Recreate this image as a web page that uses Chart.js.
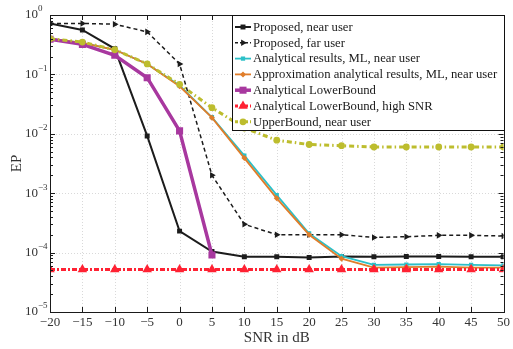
<!DOCTYPE html>
<html>
<head>
<meta charset="utf-8">
<script src="https://cdn.jsdelivr.net/npm/chart.js"></script>
<style>
  html, body { margin: 0; padding: 0; background: #fff; }
  canvas { display: block; }
</style>
</head>
<body>
<canvas id="chart-ep" width="513" height="349"></canvas>
<script>
const $ = document.querySelector.bind(document);

// SNR in dB (x axis)
const snr = [-20, -15, -10, -5, 0, 5, 10, 15, 20, 25, 30, 35, 40, 45, 50];
const decades = [0, -1, -2, -3, -4, -5];

const labels = [
  "Proposed, near user",
  "Proposed, far user",
  "Analytical results, ML, near user",
  "Approximation analytical results, ML, near user",
  "Analytical LowerBound",
  "Analytical LowerBound, high SNR",
  "UpperBound, near user",
];

const proposedNear = [0.72, 0.56, 0.27, 0.0092, 2.3e-4, 1.04e-4, 8.5e-5, 8.5e-5, 8.3e-5, 8.6e-5, 8.5e-5, 8.6e-5, 8.6e-5, 8.5e-5, 8.5e-5];
const proposedFar = [0.72, 0.72, 0.70, 0.52, 0.15, 2.0e-3, 3.0e-4, 2.0e-4, 2.0e-4, 2.0e-4, 1.8e-4, 1.85e-4, 1.95e-4, 1.95e-4, 1.9e-4];
const mlNear = [0.40, 0.34, 0.26, 0.15, 0.065, 0.019, 4.3e-3, 9.3e-4, 2.1e-4, 8.7e-5, 6.2e-5, 6.3e-5, 6.4e-5, 6.2e-5, 6.1e-5];
const approxNear = [0.40, 0.34, 0.26, 0.15, 0.063, 0.0187, 3.9e-3, 8.2e-4, 2.0e-4, 7.9e-5, 5.6e-5, 5.7e-5, 5.8e-5, 5.6e-5, 5.6e-5];
const lowerBound = [0.39, 0.32, 0.21, 0.088, 0.0112, 9.1e-5];
const lowerBoundHigh = [5.2e-5, 5.2e-5, 5.2e-5, 5.2e-5, 5.2e-5, 5.2e-5, 5.2e-5, 5.2e-5, 5.2e-5, 5.2e-5, 5.2e-5, 5.2e-5, 5.2e-5, 5.2e-5, 5.2e-5];
const upperBound = [0.40, 0.35, 0.26, 0.15, 0.068, 0.0275, 0.0125, 0.0078, 0.0066, 0.0063, 0.006, 0.006, 0.006, 0.006, 0.006];

const serif = "'Liberation Serif', 'DejaVu Serif', serif";

function points(values) {
  return values.map((v, i) => ({ x: snr[i], y: v }));
}

const styles = [
  { color: "#1c1c1c", width: 2, dash: [], point: "rect", radius: 3.5, rotation: 0 },
  { color: "#1c1c1c", width: 1.5, dash: [4, 3], point: "triangle", radius: 3.8, rotation: 90 },
  { color: "#2cc0c8", width: 1.8, dash: [], point: "rect", radius: 3, rotation: 0 },
  { color: "#e07d2a", width: 1.8, dash: [], point: "rectRot", radius: 3, rotation: 0 },
  { color: "#a8389f", width: 3.5, dash: [], point: "rect", radius: 5, rotation: 0 },
  { color: "#ff2233", width: 3, dash: [5, 2, 2, 2], point: "triangle", radius: 5.5, rotation: 0 },
  { color: "#bdbd2e", width: 3, dash: [5, 3, 1.5, 3], point: "circle", radius: 3.4, rotation: 0 },
];

const series = [proposedNear, proposedFar, mlNear, approxNear, lowerBound, lowerBoundHigh, upperBound];

// draws a marker for the custom legend
function marker(ctx, st, x, y) {
  const r = st.radius;
  ctx.save();
  ctx.translate(x, y);
  ctx.rotate((st.rotation * Math.PI) / 180);
  ctx.beginPath();
  if (st.point === "rect") {
    const s = r * Math.SQRT1_2;
    ctx.rect(-s, -s, 2 * s, 2 * s);
  } else if (st.point === "rectRot") {
    ctx.moveTo(0, -r); ctx.lineTo(r, 0); ctx.lineTo(0, r); ctx.lineTo(-r, 0);
    ctx.closePath();
  } else if (st.point === "triangle") {
    for (let k = 0; k < 3; k++) {
      const a = -Math.PI / 2 + (k * 2 * Math.PI) / 3;
      const px = Math.cos(a) * r, py = Math.sin(a) * r;
      k ? ctx.lineTo(px, py) : ctx.moveTo(px, py);
    }
    ctx.closePath();
  } else {
    ctx.arc(0, 0, r, 0, Math.PI * 2);
  }
  ctx.fillStyle = st.color;
  ctx.fill();
  ctx.restore();
}

const frame = {
  id: "frame",
  beforeDatasetsDraw(chart) {
    const { ctx, chartArea: a, scales: { x, y } } = chart;
    ctx.save();
    ctx.strokeStyle = "#cfcfcf";
    ctx.lineWidth = 0.8;
    ctx.setLineDash([1, 2]);
    ctx.beginPath();
    snr.forEach((v) => {
      const px = Math.round(x.getPixelForValue(v)) + 0.5;
      ctx.moveTo(px, a.top); ctx.lineTo(px, a.bottom);
    });
    decades.forEach((e) => {
      const py = Math.round(y.getPixelForValue(Math.pow(10, e))) + 0.5;
      ctx.moveTo(a.left, py); ctx.lineTo(a.right, py);
    });
    ctx.stroke();
    ctx.restore();
  },
  afterDraw(chart) {
    const { ctx, chartArea: a, scales: { x, y } } = chart;
    ctx.save();
    ctx.strokeStyle = "#1a1a1a";
    ctx.lineWidth = 1;
    ctx.beginPath();
    // major ticks, inward
    snr.forEach((v) => {
      const px = Math.round(x.getPixelForValue(v)) + 0.5;
      ctx.moveTo(px, a.bottom); ctx.lineTo(px, a.bottom - 5);
      ctx.moveTo(px, a.top); ctx.lineTo(px, a.top + 5);
    });
    decades.forEach((e) => {
      const py = Math.round(y.getPixelForValue(Math.pow(10, e))) + 0.5;
      ctx.moveTo(a.left, py); ctx.lineTo(a.left + 5, py);
      ctx.moveTo(a.right, py); ctx.lineTo(a.right - 5, py);
      if (e === 0) return;
      // minor ticks 2..9 within the decade above
      for (let m = 2; m <= 9; m++) {
        const pm = Math.round(y.getPixelForValue(m * Math.pow(10, e))) + 0.5;
        ctx.moveTo(a.left, pm); ctx.lineTo(a.left + 3, pm);
        ctx.moveTo(a.right, pm); ctx.lineTo(a.right - 3, pm);
      }
    });
    ctx.stroke();
    ctx.strokeRect(Math.round(a.left) + 0.5, Math.round(a.top) + 0.5, Math.round(a.right - a.left), Math.round(a.bottom - a.top));

    // y tick labels 10^e
    ctx.fillStyle = "#333";
    ctx.textBaseline = "middle";
    decades.forEach((e) => {
      const py = y.getPixelForValue(Math.pow(10, e));
      ctx.font = "13px " + serif;
      ctx.textAlign = "right";
      ctx.fillText("10", 38, py);
      ctx.font = "9px " + serif;
      ctx.textAlign = "left";
      ctx.fillText(e === 0 ? "0" : "\u2212" + -e, 38, py - 6);
    });

    // legend box inside the plot, top right
    const bx = 232, by = Math.round(a.top) + 0.5, bw = Math.round(a.right) - bx, bh = 115;
    ctx.fillStyle = "#fff";
    ctx.fillRect(bx + 0.5, by, bw, bh);
    ctx.strokeStyle = "#111";
    ctx.lineWidth = 1;
    ctx.strokeRect(bx + 0.5, by, bw, bh);
    ctx.font = "12.7px " + serif;
    ctx.textAlign = "left";
    labels.forEach((text, i) => {
      const st = styles[i];
      const ly = by + 11.5 + i * 15.8;
      ctx.strokeStyle = st.color;
      ctx.lineWidth = st.width;
      ctx.setLineDash(st.dash.length ? [3, 2] : []);
      ctx.beginPath();
      ctx.moveTo(235, ly); ctx.lineTo(251, ly);
      ctx.stroke();
      ctx.setLineDash([]);
      marker(ctx, st, 243, ly);
      ctx.fillStyle = "#1a1a1a";
      ctx.fillText(text, 253, ly + 0.5);
    });
    ctx.restore();
  },
};

new Chart($("#chart-ep"), {
  type: "line",
  data: {
    datasets: series.map((values, i) => ({
      label: labels[i],
      data: points(values),
      borderColor: styles[i].color,
      backgroundColor: styles[i].color,
      borderWidth: styles[i].width,
      borderDash: styles[i].dash,
      pointStyle: styles[i].point,
      pointRadius: styles[i].radius,
      pointRotation: styles[i].rotation,
      pointBorderWidth: 0,
      pointBackgroundColor: styles[i].color,
      tension: 0,
      fill: false,
      order: series.length - i,
    })),
  },
  options: {
    responsive: false,
    animation: false,
    devicePixelRatio: 1,
    layout: { padding: { top: 15, right: 6, left: 0, bottom: 0 } },
    plugins: { legend: { display: false }, tooltip: { enabled: false } },
    scales: {
      x: {
        type: "linear",
        min: -20,
        max: 50,
        grid: { display: false, drawTicks: false },
        border: { display: false },
        ticks: {
          stepSize: 5,
          padding: 3,
          color: "#333",
          font: { family: serif, size: 13 },
          callback: (v) => (v < 0 ? "\u2212" + -v : "" + v),
        },
        title: {
          display: true,
          text: "SNR in dB",
          color: "#333",
          font: { family: serif, size: 15 },
          padding: { top: 0, bottom: 2 },
        },
        afterFit: (s) => { s.height = 37; },
      },
      y: {
        type: "logarithmic",
        min: 1e-5,
        max: 1,
        grid: { display: false, drawTicks: false },
        border: { display: false },
        ticks: { display: false },
        title: {
          display: true,
          text: "EP",
          color: "#333",
          font: { family: serif, size: 15 },
          padding: { top: 8, bottom: 0 },
        },
        afterFit: (s) => { s.width = 50; },
      },
    },
  },
  plugins: [frame],
});
</script>
</body>
</html>
